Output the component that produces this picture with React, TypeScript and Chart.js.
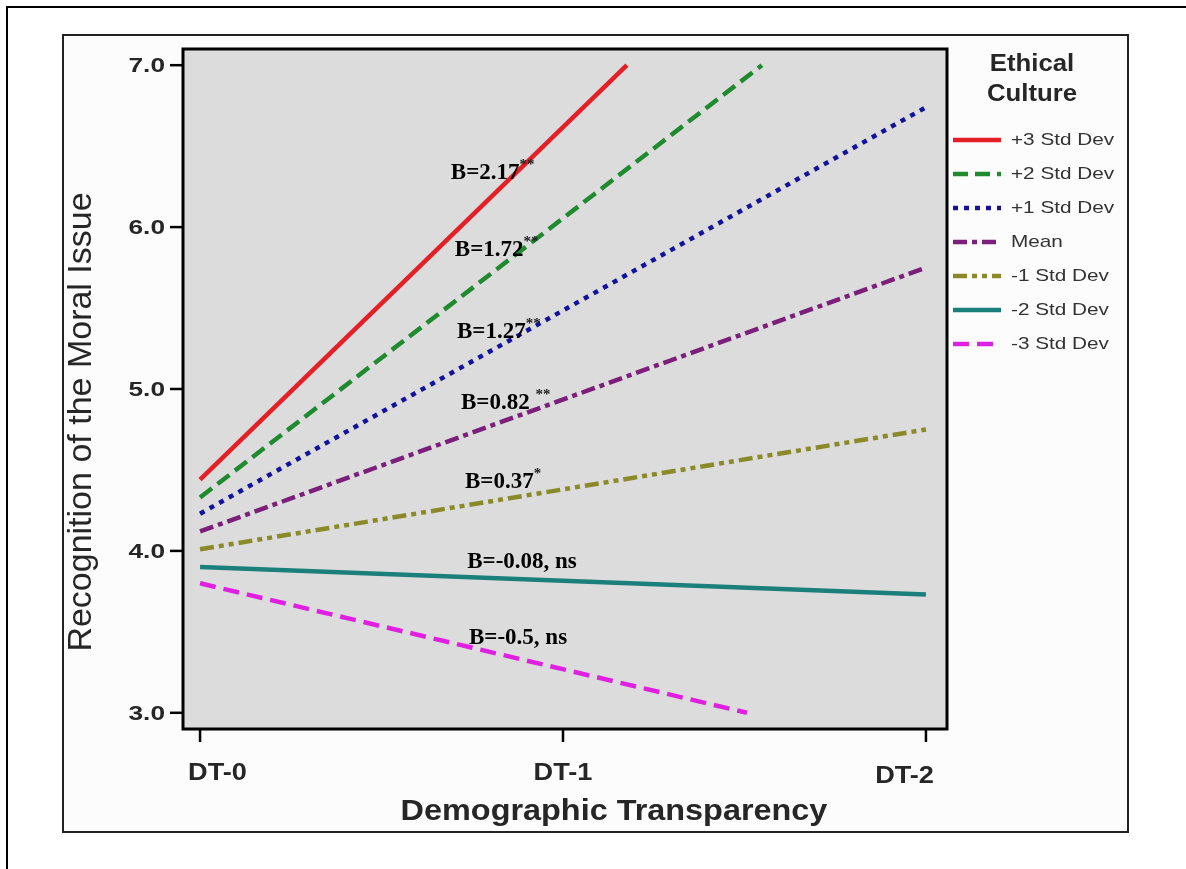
import React, { useEffect, useRef } from "react";
import { Chart, registerables } from "chart.js";

Chart.register(...registerables);

// ---- Data ----
const xCategories = ["DT-0", "DT-1", "DT-2"];
const xTickValues = [0, 1, 2];
const yTickValues = [3, 4, 5, 6, 7];
const yTickLabels = ["3.0", "4.0", "5.0", "6.0", "7.0"];

const seriesNames = ["+3 Std Dev", "+2 Std Dev", "+1 Std Dev", "Mean", "-1 Std Dev", "-2 Std Dev", "-3 Std Dev"];
// visible segment of each simple slope: start at DT-0 and end point as drawn
const startX = [0, 0, 0, 0, 0, 0, 0];
const startY = [4.44, 4.33, 4.23, 4.12, 4.01, 3.9, 3.8];
const endX = [1.176, 1.548, 2, 2, 2, 2, 1.507];
const endY = [7.0, 7.0, 6.74, 5.75, 4.75, 3.73, 3.0];

const slopeText = ["B=2.17", "B=1.72", "B=1.27", "B=0.82 ", "B=0.37", "B=-0.08, ns", "B=-0.5, ns"];
const slopeSig = ["**", "**", "**", "**", "*", "", ""];
const slopeLabelX = [0.691, 0.702, 0.708, 0.719, 0.73, 0.736, 0.741];
const slopeLabelY = [6.333, 5.858, 5.352, 4.914, 4.426, 3.932, 3.463];

const legendTitle = ["Ethical", "Culture"];
const xTitle = "Demographic Transparency";
const yTitle = "Recognition of the Moral Issue";

// ---- Styles ----
const colors = ["#e41f26", "#1f8a2e", "#12129c", "#7b1f7b", "#8a8a2a", "#1b807c", "#e020e0"];
const dashes = [[], [15, 7], [5, 6], [14, 5, 5, 5], [14, 5, 5, 5, 5, 5], [], [16, 8]];

const SANS = '"Liberation Sans", Arial, sans-serif';
const SERIF = '"Liberation Serif", "Times New Roman", serif';
const TEXT = "#262626";

function txt(ctx: CanvasRenderingContext2D, s: string, x: number, y: number, font: string, align: CanvasTextAlign, sx = 1, color = TEXT) {
  ctx.save();
  ctx.font = font;
  ctx.fillStyle = color;
  ctx.textBaseline = "middle";
  ctx.textAlign = align;
  ctx.translate(x, y);
  ctx.scale(sx, 1);
  ctx.fillText(s, 0, 0);
  ctx.restore();
}

const decorPlugin = {
  id: "decor",
  beforeDraw(chart: any) {
    const ctx = chart.ctx as CanvasRenderingContext2D;
    const a = chart.chartArea;
    ctx.save();
    ctx.fillStyle = "#ffffff";
    ctx.fillRect(0, 0, chart.width, chart.height);
    // outer frame
    ctx.strokeStyle = "#000";
    ctx.lineWidth = 2;
    ctx.beginPath();
    ctx.moveTo(7, chart.height + 2);
    ctx.lineTo(7, 7);
    ctx.lineTo(chart.width + 2, 7);
    ctx.stroke();
    // inner panel
    ctx.fillStyle = "#fcfcfc";
    ctx.fillRect(63, 35, 1065, 797);
    ctx.strokeStyle = "#222";
    ctx.lineWidth = 2;
    ctx.strokeRect(63, 35, 1065, 797);
    // plot background
    ctx.fillStyle = "#dcdcdc";
    ctx.fillRect(a.left, a.top, a.right - a.left, a.bottom - a.top);
    ctx.restore();
  },
  afterDraw(chart: any) {
    const ctx = chart.ctx as CanvasRenderingContext2D;
    const a = chart.chartArea;
    const xs = chart.scales.x;
    const ys = chart.scales.y;
    ctx.save();
    // frame
    ctx.strokeStyle = "#000";
    ctx.lineWidth = 3;
    ctx.strokeRect(a.left, a.top, a.right - a.left, a.bottom - a.top);
    // y ticks
    ctx.lineWidth = 2.5;
    yTickValues.forEach((v, i) => {
      const py = ys.getPixelForValue(v);
      ctx.beginPath();
      ctx.moveTo(a.left - 13, py);
      ctx.lineTo(a.left, py);
      ctx.stroke();
      txt(ctx, yTickLabels[i], a.left - 18, py + 1, `bold 21px ${SANS}`, "right", 1.25);
    });
    // x ticks
    xTickValues.forEach((v, i) => {
      const px = xs.getPixelForValue(v);
      ctx.beginPath();
      ctx.moveTo(px, a.bottom);
      ctx.lineTo(px, a.bottom + 13);
      ctx.stroke();
      const last = i === xTickValues.length - 1;
      const align: CanvasTextAlign = i === 0 ? "left" : last ? "right" : "center";
      const ox = i === 0 ? -12 : last ? 8 : 0;
      txt(ctx, xCategories[i], px + ox, a.bottom + (last ? 48 : 45), `bold 23px ${SANS}`, align, 1.18);
    });
    // axis titles
    txt(ctx, xTitle, 614, 812, `bold 30px ${SANS}`, "center", 1.08);
    ctx.save();
    ctx.translate(82, 422);
    ctx.rotate(-Math.PI / 2);
    txt(ctx, yTitle, 0, 0, `34px ${SANS}`, "center", 1);
    ctx.restore();
    // slope annotations
    slopeText.forEach((s, i) => {
      const px = xs.getPixelForValue(slopeLabelX[i]);
      const py = ys.getPixelForValue(slopeLabelY[i]);
      const f = `bold 23px ${SERIF}`;
      txt(ctx, s, px, py, f, "left", 1, "#000");
      if (slopeSig[i]) {
        ctx.font = f;
        const w = ctx.measureText(s).width;
        txt(ctx, slopeSig[i], px + w, py - 8, `bold 15px ${SERIF}`, "left", 1, "#222");
      }
    });
    // legend
    txt(ctx, legendTitle[0], 1032, 65, `bold 23px ${SANS}`, "center", 1.12);
    txt(ctx, legendTitle[1], 1032, 95, `bold 23px ${SANS}`, "center", 1.12);
    chart.data.datasets.forEach((ds: any, i: number) => {
      const y = 140 + i * 34;
      ctx.save();
      ctx.strokeStyle = ds.borderColor;
      ctx.lineWidth = ds.borderWidth;
      ctx.setLineDash(ds.borderDash || []);
      ctx.beginPath();
      ctx.moveTo(953, y);
      ctx.lineTo(1001, y);
      ctx.stroke();
      ctx.restore();
      txt(ctx, ds.label, 1011, y, `17px ${SANS}`, "left", 1.22, "#333");
    });
    ctx.restore();
  },
};

export default function App() {
  const ref = useRef<HTMLCanvasElement | null>(null);
  useEffect(() => {
    if (!ref.current) return;
    const datasets = seriesNames.map((name, i) => ({
      label: name,
      data: [
        { x: startX[i], y: startY[i] },
        { x: endX[i], y: endY[i] },
      ],
      borderColor: colors[i],
      backgroundColor: colors[i],
      borderWidth: 4.5,
      borderDash: dashes[i],
      borderCapStyle: "butt" as const,
      pointRadius: 0,
      fill: false,
      tension: 0,
    }));
    const chart = new Chart(ref.current, {
      type: "line",
      data: { datasets },
      options: {
        responsive: false,
        animation: false,
        events: [],
        layout: { padding: { left: 183, top: 49, right: 239, bottom: 140 } },
        plugins: { legend: { display: false }, tooltip: { enabled: false } },
        scales: {
          x: { type: "linear", display: false, min: -0.047, max: 2.058 },
          y: { type: "linear", display: false, min: 2.9, max: 7.1 },
        },
      },
      plugins: [decorPlugin],
    });
    return () => chart.destroy();
  }, []);
  return (
    <div style={{ position: "absolute", left: 0, top: 0, width: 1186, height: 869, overflow: "hidden" }}>
      <canvas ref={ref} width={1186} height={869} style={{ display: "block" }} />
    </div>
  );
}
